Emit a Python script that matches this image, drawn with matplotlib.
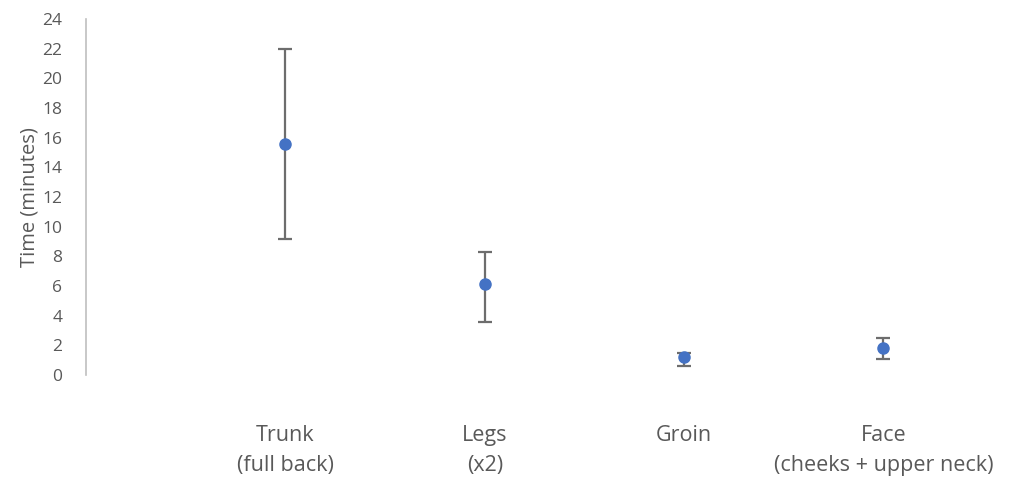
import matplotlib.pyplot as plt

categories = ['Trunk\n(full back)', 'Legs\n(x2)', 'Groin', 'Face\n(cheeks + upper neck)']
means = [15.6, 6.1, 1.2, 1.8]
upper = [22.0, 8.3, 1.5, 2.5]
lower = [9.2, 3.6, 0.6, 1.1]


def main():
    plt.rcParams['font.family'] = ['Open Sans', 'DejaVu Sans']
    fig = plt.figure(figsize=(10.13, 4.8), dpi=100)
    ax = fig.add_axes([0.085, 0.219, 0.905, 0.741])

    xs = list(range(1, len(categories) + 1))
    err_lo = [m - l for m, l in zip(means, lower)]
    err_hi = [u - m for m, u in zip(means, upper)]
    ax.errorbar(xs, means, yerr=[err_lo, err_hi], fmt='o', color='#4472C4',
                markersize=8, ecolor='#6d6d6d', elinewidth=1.6, capsize=5,
                capthick=1.6, zorder=3)

    ax.set_xlim(0, 4.6)
    ax.set_ylim(0, 24)
    ax.set_yticks(range(0, 25, 2))
    ax.set_xticks(xs)
    ax.set_xticklabels(categories, fontsize=15.5, color='#595959', linespacing=1.6)
    ax.tick_params(axis='x', length=0, pad=36)
    ax.tick_params(axis='y', length=0, labelsize=12.5, labelcolor='#595959', pad=17)
    ax.set_ylabel('Time (minutes)', fontsize=14.5, color='#595959', labelpad=2)

    for side in ['top', 'right', 'bottom']:
        ax.spines[side].set_visible(False)
    ax.spines['left'].set_color('#bfbfbf')
    ax.spines['left'].set_linewidth(1.2)

    fig.savefig('out.png', dpi=100)


if __name__ == '__main__':
    main()
